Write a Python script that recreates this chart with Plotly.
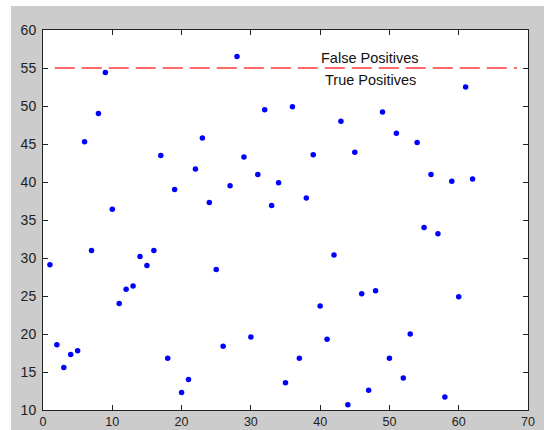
import plotly.graph_objects as go

x_vals = list(range(1, 63))
y_vals = [29.1, 18.6, 15.6, 17.3, 17.8, 45.3, 31.0, 49.0, 54.4, 36.4,
          24.0, 25.9, 26.3, 30.2, 29.0, 31.0, 43.5, 16.8, 39.0, 12.3,
          14.0, 41.7, 45.8, 37.3, 28.5, 18.4, 39.5, 56.5, 43.3, 19.6,
          41.0, 49.5, 36.9, 39.9, 13.6, 49.9, 16.8, 37.9, 43.6, 23.7,
          19.3, 30.4, 48.0, 10.7, 43.9, 25.3, 12.6, 25.7, 49.2, 16.8,
          46.4, 14.2, 20.0, 45.2, 34.0, 41.0, 33.2, 11.7, 40.1, 24.9,
          52.5, 40.4]

threshold_x = [1.7, 68.4]
threshold_y = [55, 55]

label_texts = ["False Positives", "True Positives"]
label_x = [47.2, 47.2]
label_y = [56.35, 53.45]

x_ticks = [0, 10, 20, 30, 40, 50, 60, 70]
y_ticks = [10, 15, 20, 25, 30, 35, 40, 45, 50, 55, 60]

W, H = 544, 430
L, R, T, B = 43, 16, 30, 20
pw, ph = W - L - R, H - T - B

fig = go.Figure()
fig.add_trace(go.Scatter(x=threshold_x, y=threshold_y, mode="lines",
                         line=dict(color="rgb(255,105,105)", width=2.2, dash="20px,7px"),
                         hoverinfo="skip"))
fig.add_trace(go.Scatter(x=x_vals, y=y_vals, mode="markers",
                         marker=dict(color="#0000ff", size=5.5, line=dict(width=0))))

for t, xx, yy in zip(label_texts, label_x, label_y):
    fig.add_annotation(x=xx, y=yy, text=t, showarrow=False,
                       font=dict(family="Liberation Sans, Arial", size=14.5, color="#111111"),
                       xanchor="center", yanchor="middle")

# white strips on the left and top edges of the figure
fig.add_shape(type="rect", xref="paper", yref="paper", layer="below",
              x0=-0.3, x1=(11 - L) / pw, y0=-0.3, y1=1.3,
              fillcolor="white", line=dict(width=0))
fig.add_shape(type="rect", xref="paper", yref="paper", layer="below",
              x0=-0.3, x1=1.3, y0=(H - B - 6) / ph, y1=1.3,
              fillcolor="white", line=dict(width=0))

axis_common = dict(showgrid=False, zeroline=False, showline=True, linecolor="#222222",
                   linewidth=1, mirror="ticks", ticks="inside", ticklen=5,
                   tickcolor="#222222", tickwidth=1, automargin=False)

fig.update_xaxes(range=[0, 70], tickvals=x_ticks, ticklabelstandoff=0,
                 tickfont=dict(family="Liberation Sans, Arial", size=12.5, color="#222222"),
                 **axis_common)
fig.update_yaxes(range=[10, 60], tickvals=y_ticks, ticklabelstandoff=3,
                 tickfont=dict(family="Liberation Sans, Arial", size=14, color="#222222"),
                 **axis_common)

fig.update_layout(width=W, height=H, margin=dict(l=L, r=R, t=T, b=B),
                  paper_bgcolor="#cccccc", plot_bgcolor="white",
                  showlegend=False)

fig.write_html("out.html", config={"displayModeBar": False},
               post_script="document.body.style.margin='0px';document.body.style.padding='0px';")
